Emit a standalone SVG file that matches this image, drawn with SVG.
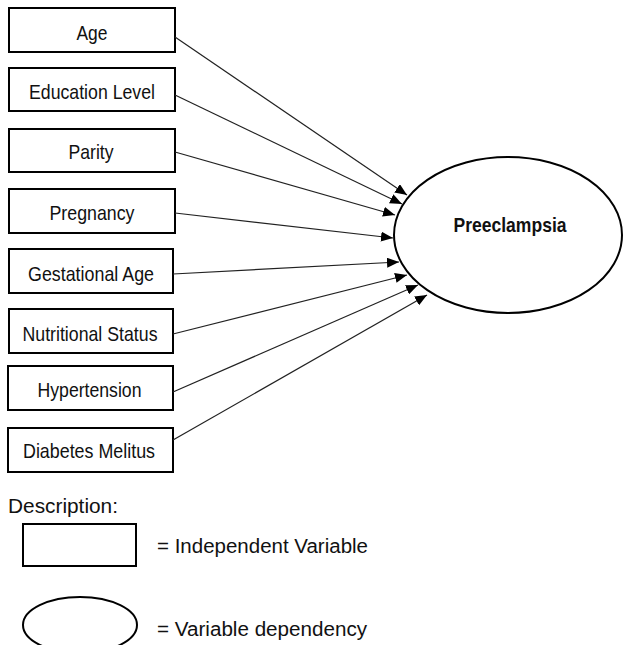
<svg xmlns="http://www.w3.org/2000/svg" width="623" height="645" viewBox="0 0 623 645">
<style>
.box{fill:#fff;stroke:#000;stroke-width:2}
.lbl{font-family:"Liberation Sans Narrow","Arial Narrow","Liberation Sans",Arial,sans-serif;font-size:21px;fill:#111;text-anchor:middle}
.leg{font-family:"Liberation Sans",Arial,sans-serif;font-size:20px;fill:#111}
.con line{stroke:#222;stroke-width:1.2;marker-end:url(#ah)}
</style>
<defs>
<marker id="ah" markerUnits="userSpaceOnUse" markerWidth="13" markerHeight="10" refX="12" refY="5" orient="auto">
<path d="M0,0 L12,5 L0,10 Z" fill="#000"/>
</marker>
</defs>
<rect width="623" height="645" fill="#fff"/>
<g id="n-age"><rect class="box" x="9" y="8" width="166" height="44"/><text class="lbl" x="92" y="40" textLength="31" lengthAdjust="spacingAndGlyphs">Age</text></g>
<g id="n-edu"><rect class="box" x="9" y="68" width="166" height="43"/><text class="lbl" x="92" y="99" textLength="126" lengthAdjust="spacingAndGlyphs">Education Level</text></g>
<g id="n-parity"><rect class="box" x="9" y="129" width="166" height="43"/><text class="lbl" x="91" y="159" textLength="45" lengthAdjust="spacingAndGlyphs">Parity</text></g>
<g id="n-preg"><rect class="box" x="9" y="189" width="166" height="44"/><text class="lbl" x="92" y="220" textLength="85" lengthAdjust="spacingAndGlyphs">Pregnancy</text></g>
<g id="n-gest"><rect class="box" x="9" y="249" width="164" height="44"/><text class="lbl" x="91" y="281" textLength="126" lengthAdjust="spacingAndGlyphs">Gestational Age</text></g>
<g id="n-nutr"><rect class="box" x="9" y="309" width="164" height="44"/><text class="lbl" x="90" y="341" textLength="135" lengthAdjust="spacingAndGlyphs">Nutritional Status</text></g>
<g id="n-hyp"><rect class="box" x="8" y="366" width="165" height="44"/><text class="lbl" x="89.5" y="397" textLength="104" lengthAdjust="spacingAndGlyphs">Hypertension</text></g>
<g id="n-dm"><rect class="box" x="8" y="428" width="165" height="44"/><text class="lbl" x="89" y="458" textLength="132" lengthAdjust="spacingAndGlyphs">Diabetes Melitus</text></g>
<g id="n-pre"><ellipse class="box" cx="508" cy="235" rx="114" ry="78"/><text class="lbl" x="510" y="232" font-weight="bold" textLength="113" lengthAdjust="spacingAndGlyphs">Preeclampsia</text></g>
<g class="con" id="connectors">
<line x1="175" y1="37" x2="407" y2="195"/>
<line x1="175" y1="95" x2="402" y2="204"/>
<line x1="175" y1="152" x2="395" y2="215"/>
<line x1="175" y1="213" x2="393" y2="238"/>
<line x1="173" y1="274" x2="399" y2="262"/>
<line x1="173" y1="334" x2="407" y2="275"/>
<line x1="173" y1="392" x2="418" y2="285"/>
<line x1="173" y1="440" x2="427" y2="295"/>
</g>
<g id="legend">
<text class="leg" x="8" y="513" textLength="110" lengthAdjust="spacingAndGlyphs">Description:</text>
<rect class="box" x="23" y="524" width="113" height="42" stroke-width="1.5"/>
<text class="leg" x="157" y="553" textLength="211" lengthAdjust="spacingAndGlyphs">= Independent Variable</text>
<ellipse class="box" cx="80" cy="625" rx="57" ry="28"/>
<text class="leg" x="157" y="636" textLength="210" lengthAdjust="spacingAndGlyphs">= Variable dependency</text>
</g>
</svg>
